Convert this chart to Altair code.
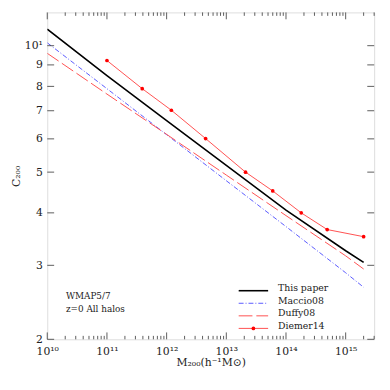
import altair as alt
import pandas as pd

W, H = 333, 333
FONT = "DejaVu Serif"

# ---- data ----
mass_grid = [1e10, 1e11, 1e12, 1e13, 1e14, 1e15, 2e15]
this_paper = [10.95, 8.49, 6.63, 5.19, 4.06, 3.25, 3.05]
maccio08 = [10.16, 7.90, 6.14, 4.77, 3.71, 2.88, 2.66]
duffy08 = [9.59, 7.67, 6.15, 4.92, 3.94, 3.16, 2.94]
diemer_mass = [1e11, 3.9e11, 1.2e12, 4.5e12, 2.1e13, 6e13, 1.8e14, 4.9e14, 2e15]
diemer14 = [9.22, 7.90, 7.02, 6.01, 5.00, 4.51, 4.00, 3.65, 3.51]

x_major = [1e10, 1e11, 1e12, 1e13, 1e14, 1e15]
x_minor = [k * 10.0 ** n for n in range(10, 16) for k in range(2, 10) if k * 10.0 ** n <= 3e15]
y_ticks = [2, 3, 4, 5, 6, 7, 8, 9, 10]

legend_names = ["This paper", "Maccio08", "Duffy08", "Diemer14"]
notes = ["WMAP5/7", "z=0 All halos"]

xscale = alt.Scale(type="log", domain=[1e10, 3e15], nice=False)
yscale = alt.Scale(type="log", domain=[2, 12], nice=False)

x_axis = alt.Axis(
    values=x_major,
    labelExpr="'10' + ['¹⁰','¹¹','¹²','¹³','¹⁴','¹⁵'][round(log(datum.value)/LN10) - 10]",
    ticks=False, domain=False, grid=False,
    labelFont=FONT, labelFontSize=11, labelColor="#222", labelPadding=6,
    labelFontWeight="normal", labelFlush=False,
    title="M₂₀₀(h⁻¹M⊙)", titleFont=FONT, titleFontSize=11, titleFontWeight="normal",
    titleColor="#222", titlePadding=1,
)
y_axis = alt.Axis(
    values=y_ticks,
    labelExpr="datum.value == 10 ? '10¹' : datum.label",
    ticks=False, domain=False, grid=False,
    labelFont=FONT, labelFontSize=11, labelColor="#222", labelPadding=5,
    labelFlush=False,
    title="C₂₀₀", titleFont=FONT, titleFontSize=11, titleFontWeight="normal",
    titleColor="#222", titlePadding=3,
)

def X():
    return alt.X("M:Q", scale=xscale, axis=x_axis)

def Y():
    return alt.Y("c:Q", scale=yscale, axis=y_axis)

def curve_df(m, c):
    return pd.DataFrame({"M": m, "c": c})

black = alt.Chart(curve_df(mass_grid, this_paper)).mark_line(
    color="black", strokeWidth=1.6, clip=True
).encode(x=X(), y=Y())

blue = alt.Chart(curve_df(mass_grid, maccio08)).mark_line(
    color="#5a5aff", strokeWidth=1, strokeDash=[5, 2, 1, 2], clip=True
).encode(x=X(), y=Y())

red = alt.Chart(curve_df(mass_grid, duffy08)).mark_line(
    color="#ff5050", strokeWidth=1, strokeDash=[14, 4], clip=True
).encode(x=X(), y=Y())

diem_df = curve_df(diemer_mass, diemer14)
diem_line = alt.Chart(diem_df).mark_line(color="#ff5050", strokeWidth=1).encode(x=X(), y=Y())
diem_pts = alt.Chart(diem_df).mark_circle(color="#ff0000", size=14, opacity=1).encode(x=X(), y=Y())

# ---- inward ticks on all four sides ----
TC = "#333"
xmaj = pd.DataFrame({"M": x_major})
xmin = pd.DataFrame({"M": x_minor})
yt = pd.DataFrame({"c": y_ticks})

def xtick(df, y0, y1):
    return alt.Chart(df).mark_rule(color=TC, strokeWidth=0.8).encode(
        x=X(), y=alt.value(y0), y2=alt.value(y1))

def ytick(df, x0, x1):
    return alt.Chart(df).mark_rule(color=TC, strokeWidth=0.8).encode(
        y=Y(), x=alt.value(x0), x2=alt.value(x1))

ticks = [
    xtick(xmaj, H, H - 7), xtick(xmin, H, H - 3.5),
    xtick(xmaj, 0, 7), xtick(xmin, 0, 3.5),
    ytick(yt, 0, 7), ytick(yt, W, W - 7),
]

# ---- annotations ----
note_df = pd.DataFrame({"t": notes, "i": [0, 1]})
note = alt.Chart(note_df).transform_calculate(py="289 + datum.i * 13").mark_text(
    font=FONT, fontSize=9, align="left", baseline="middle", color="#222"
).encode(text="t:N", x=alt.value(19), y=alt.Y("py:Q", scale=None, axis=None))

# ---- manual legend ----
leg_df = pd.DataFrame({"name": legend_names, "i": [0, 1, 2, 3]})
leg_text = alt.Chart(leg_df).transform_calculate(py="281 + datum.i * 12.8").mark_text(
    font=FONT, fontSize=9.5, align="left", baseline="middle", color="#222"
).encode(text="name:N", x=alt.value(235), y=alt.Y("py:Q", scale=None, axis=None))

def leg_line(i, **kw):
    return alt.Chart(leg_df[leg_df.i == i]).mark_rule(**kw).encode(
        x=alt.value(195), x2=alt.value(225), y=alt.value(283.5 + i * 12.8))

leg_lines = [
    leg_line(0, color="black", strokeWidth=1.6),
    leg_line(1, color="#5a5aff", strokeWidth=1, strokeDash=[5, 2, 1, 2]),
    leg_line(2, color="#ff5050", strokeWidth=1, strokeDash=[14, 4]),
    leg_line(3, color="#ff5050", strokeWidth=1),
]
leg_pt = alt.Chart(leg_df[leg_df.i == 3]).mark_circle(color="#ff0000", size=14, opacity=1).encode(
    x=alt.value(210), y=alt.value(283.5 + 3 * 12.8))

chart = alt.layer(
    black, blue, red, diem_line, diem_pts, *ticks, note, leg_text, *leg_lines, leg_pt
).properties(
    width=W, height=H,
    autosize=alt.AutoSizeParams(type="none"),
    padding={"left": 40, "top": 1, "right": 8, "bottom": 40},
).configure_view(stroke="#333", strokeWidth=1).configure(background="white")

chart.save("out.html", embed_options={"renderer": "svg", "actions": False})
